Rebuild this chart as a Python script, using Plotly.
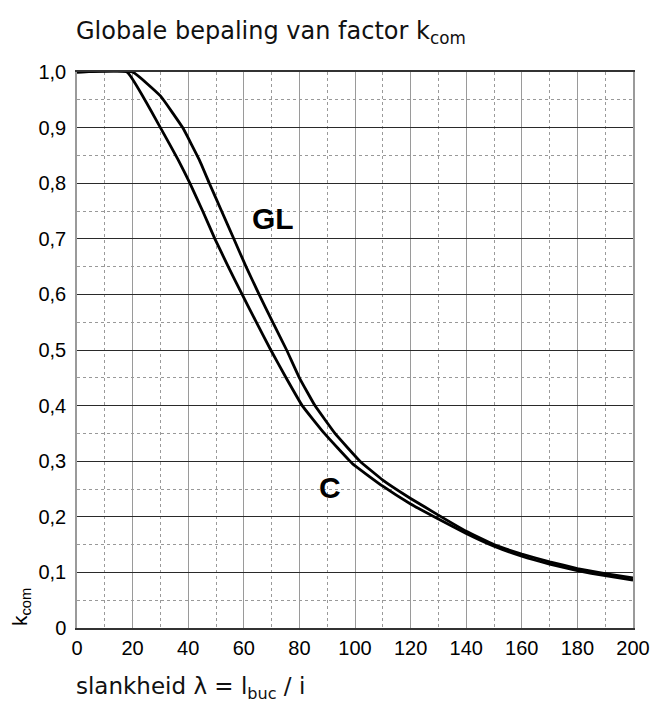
import plotly.graph_objects as go

# Data
lam_C = [0, 18, 30, 36.4, 40.6, 45.2, 49.6, 54.4, 59.4, 64.5, 69.7, 75.2, 81, 89, 99, 110, 120, 130, 140, 150, 160, 170, 180, 190, 200]
k_C = [1.0, 1.0, 0.90, 0.842, 0.80, 0.75, 0.70, 0.65, 0.60, 0.55, 0.50, 0.45, 0.40, 0.35, 0.296, 0.255, 0.223, 0.196, 0.170, 0.147, 0.129, 0.115, 0.103, 0.094, 0.086]

lam_GL = [0, 20, 30, 38, 44, 47.6, 52, 56.4, 60.8, 65.5, 70.4, 75.4, 80, 85.6, 92.8, 101.8, 110, 120, 130, 140, 150, 160, 170, 180, 190, 200]
k_GL = [1.0, 1.0, 0.957, 0.90, 0.842, 0.80, 0.75, 0.70, 0.65, 0.60, 0.55, 0.50, 0.45, 0.40, 0.35, 0.30, 0.266, 0.233, 0.203, 0.174, 0.150, 0.133, 0.119, 0.107, 0.098, 0.090]

x_ticks = [0, 20, 40, 60, 80, 100, 120, 140, 160, 180, 200]
x_ticktext = ["0", "20", "40", "60", "80", "100", "120", "140", "160", "180", "200"]
y_ticks = [0, 0.1, 0.2, 0.3, 0.4, 0.5, 0.6, 0.7, 0.8, 0.9, 1.0]
y_ticktext = ["0", "0,1", "0,2", "0,3", "0,4", "0,5", "0,6", "0,7", "0,8", "0,9", "1,0"]

labels = ["GL", "C"]
label_x = [70.5, 91.1]
label_y = [0.736, 0.253]

fig = go.Figure()
for xs, ys in [(lam_C, k_C), (lam_GL, k_GL)]:
    fig.add_trace(go.Scatter(x=xs, y=ys, mode="lines",
                             line=dict(color="black", width=2.8, shape="spline", smoothing=0.3),
                             showlegend=False, hoverinfo="skip"))

for t, lx, ly in zip(labels, label_x, label_y):
    fig.add_annotation(x=lx, y=ly, text="<b>%s</b>" % t, showarrow=False,
                       font=dict(family="Liberation Sans, Arial", size=30, color="black"))

fig.add_annotation(xref="paper", yref="paper", x=0, y=1, xshift=-3, yshift=22,
                   xanchor="left", yanchor="bottom", showarrow=False,
                   text="Globale bepaling van factor k<sub>com</sub>",
                   font=dict(family="DejaVu Sans, Verdana", size=24, color="#111111"))
fig.add_annotation(xref="paper", yref="paper", x=0, y=0, xshift=-3, yshift=-43,
                   xanchor="left", yanchor="top", showarrow=False,
                   text="slankheid \u03bb = l<sub>buc</sub> / i",
                   font=dict(family="DejaVu Sans, Verdana", size=23, color="#111111"))
fig.add_annotation(xref="paper", yref="paper", x=0, y=0, xshift=-56, yshift=0,
                   xanchor="center", yanchor="bottom", showarrow=False, textangle=-90,
                   text="k<sub>com</sub>",
                   font=dict(family="Liberation Sans, Arial", size=21, color="black"))

fig.update_layout(
    width=652, height=702,
    margin=dict(l=77, r=19, t=72, b=74),
    paper_bgcolor="white", plot_bgcolor="white",
    font=dict(family="Liberation Sans, Arial", size=20, color="black"),
)
fig.update_xaxes(
    range=[0, 200], tickvals=x_ticks, ticktext=x_ticktext,
    showgrid=True, gridcolor="#9a9a9a", gridwidth=1,
    minor=dict(dtick=10, tick0=0, showgrid=True, gridcolor="#9a9a9a", griddash="dot", gridwidth=1),
    showline=True, linecolor="#333333", linewidth=1.5, mirror=True,
    ticks="outside", ticklen=1, tickcolor="rgba(0,0,0,0)",
    zeroline=False, fixedrange=True, automargin=False,
)
fig.update_yaxes(
    range=[0, 1.0], tickvals=y_ticks, ticktext=y_ticktext,
    showgrid=True, gridcolor="#2a2a2a", gridwidth=1,
    minor=dict(dtick=0.05, tick0=0, showgrid=True, gridcolor="#999999", griddash="dot", gridwidth=1),
    showline=True, linecolor="#9a9a9a", linewidth=1.5, mirror=True,
    ticks="outside", ticklen=5, tickcolor="rgba(0,0,0,0)",
    zeroline=False, fixedrange=True, automargin=False,
)

fig.write_html("out.html", config={"displayModeBar": False},
               post_script="document.body.style.margin='0';document.body.style.padding='0';")
